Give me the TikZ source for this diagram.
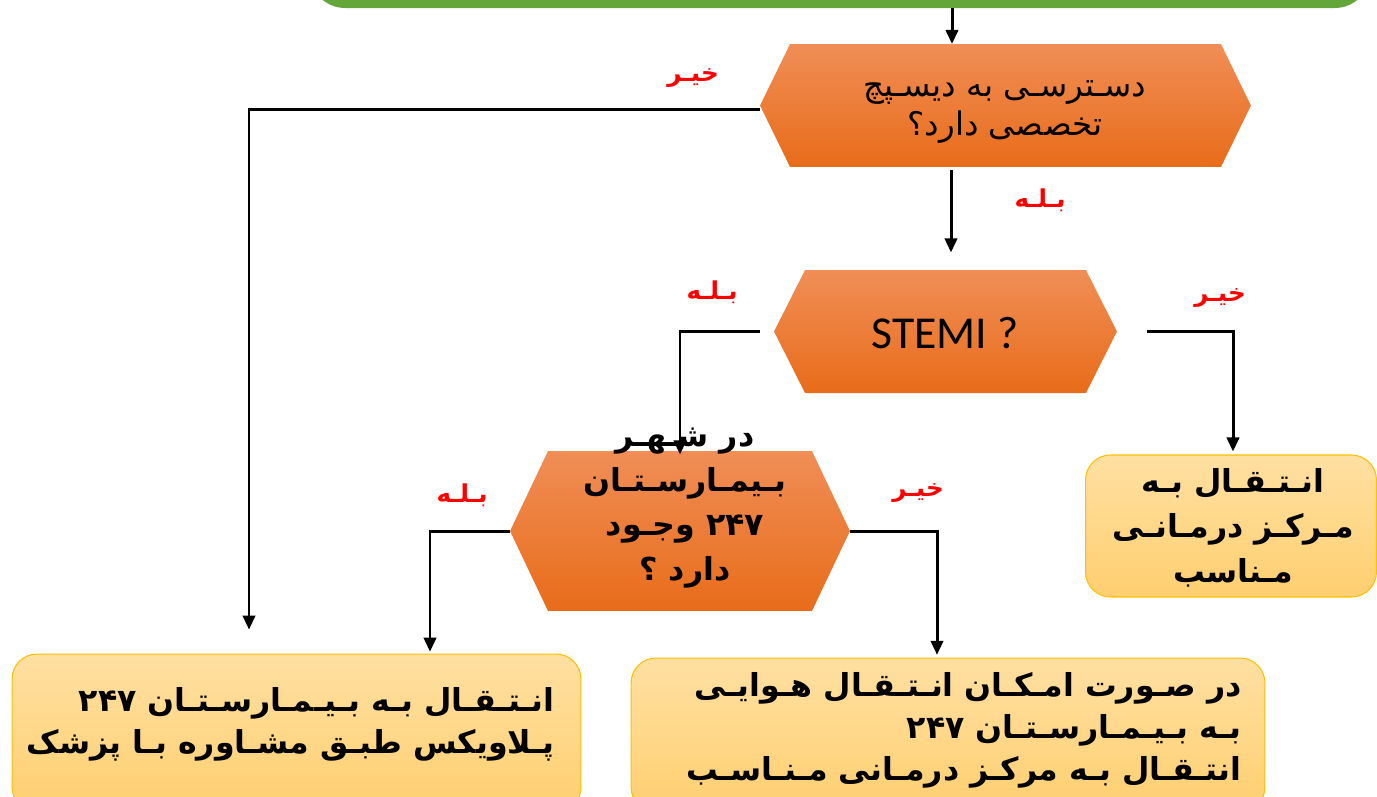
\documentclass[tikz,border=0pt]{standalone}
\usepackage{fontspec}
\usetikzlibrary{arrows.meta,calc,backgrounds}
\TeXXeTstate=1
\newfontfamily\fa[Script=Arabic]{DejaVu Sans}
\newfontfamily\stemifont{Carlito}
\definecolor{grn}{RGB}{100,166,58}
\definecolor{hexT}{RGB}{240,142,86}
\definecolor{hexM}{RGB}{243,124,42}
\definecolor{hexB}{RGB}{232,108,26}
\definecolor{boxT}{RGB}{255,224,162}
\definecolor{boxB}{RGB}{255,207,112}
\definecolor{boxE}{RGB}{255,192,0}
\definecolor{lbl}{RGB}{255,0,0}
\newcommand{\hexfill}[2]{%
  \begin{pgfonlayer}{background}
  \shade[top color=hexT,middle color=hexM,bottom color=hexB]
    (#1.west) -- ($(#1.north west)+(#2,0)$) -- ($(#1.north east)+(-#2,0)$)
    -- (#1.east) -- ($(#1.south east)+(-#2,0)$) -- ($(#1.south west)+(#2,0)$) -- cycle;
  \end{pgfonlayer}}
\tikzset{
  hexbox/.style={inner sep=0pt, outer sep=0pt},
  greenbox/.style={fill=grn, rounded corners=0.7cm, inner sep=0pt},
  endbox/.style={draw=boxE, line width=0.6pt, top color=boxT, bottom color=boxB, rounded corners=0.5cm, inner sep=0pt},
  arr/.style={line width=1.7pt, -{Triangle[length=8pt,width=7pt]}},
  lab/.style={text=lbl, font=\fa\bfseries\fontsize{14}{16}\selectfont, inner sep=0pt},
  qtext/.style={font=\fa\fontsize{18.5}{22.7}\selectfont, align=center, inner sep=0pt},
  btext/.style={font=\fa\bfseries\fontsize{18}{24}\selectfont, inner sep=0pt},
}
\begin{document}
\begin{tikzpicture}[x=0.02cm,y=-0.02cm]
\useasboundingbox (0,0) rectangle (1377,796);
% top green block
\node[greenbox, minimum width=21.2cm, minimum height=1.6cm] (g) at (840,-32) {};
% decision hexagons
\node[hexbox, minimum width=9.82cm, minimum height=2.46cm] (h1) at (1005.5,105.5) {};
\hexfill{h1}{30}
\node[qtext] (t1) at (1005,112) {\beginR دسـترسـی به دیسـپچ\endR\\ \beginR تخصصی دارد؟\endR};
\node[hexbox, minimum width=6.86cm, minimum height=2.46cm] (h2) at (945.5,331.5) {};
\hexfill{h2}{31}
\node[font=\stemifont\fontsize{26}{30}\selectfont, inner sep=0pt] (t2) at (945,333) {STEMI ?};
\node[hexbox, minimum width=6.8cm, minimum height=3.2cm] (h3) at (680,531) {};
\hexfill{h3}{38}
\node[btext, align=center, font=\fa\bfseries\fontsize{18}{25.5}\selectfont] (t3) at (685,508)
  {\beginR در شـهـر\endR\\ \beginR بـیمـارسـتـان\endR\\ \beginR\beginL ۲۴۷\endL{} وجـود\endR\\ \beginR دارد ؟\endR};
% end boxes
\node[endbox, minimum width=5.82cm, minimum height=2.84cm] (R) at (1231,526) {};
\node[btext, align=center, font=\fa\bfseries\fontsize{18}{25.5}\selectfont] (tR) at (1233,528)
  {\beginR انـتـقـال بـه\endR\\ \beginR مـرکـز درمـانـی\endR\\ \beginR مـناسب\endR};
\node[endbox, minimum width=11.38cm, minimum height=3.16cm] (BL) at (296.5,733) {};
\node[btext, align=right, anchor=east] (tBL) at (555,724)
  {\beginR انـتـقـال بـه بـیـمـارسـتـان \beginL ۲۴۷\endL\endR\\ \beginR پـلاویکس طبـق مشـاوره بـا پزشک\endR};
\node[endbox, minimum width=12.68cm, minimum height=3.08cm] (BM) at (948,735) {};
\node[btext, align=right, anchor=east] (tBM) at (1242,730)
  {\beginR در صـورت امـکـان انـتـقـال هـوایـی\endR\\ \beginR بـه بـیـمـارسـتـان \beginL ۲۴۷\endL\endR\\ \beginR انتـقـال بـه مرکـز درمـانی مـنـاسـب\endR};
% column coordinates
\coordinate (x952) at (952,0);
\coordinate (x951) at (951,0);
\coordinate (x249) at (249,0);
\coordinate (x680) at (680,0);
\coordinate (x1233) at (1233,0);
\coordinate (x430) at (430,0);
\coordinate (x937) at (937,0);
% connectors
\draw[arr] (g.south -| x952) -- (h1.north -| x952);
\draw[arr, shorten <=1.7pt, shorten >=10pt] (h1.south -| x951) -- (h2.north -| x951);
\draw[arr, shorten >=13.6pt] ([yshift=-2.5pt]h1.west) -| (BL.north -| x249);
\draw[arr, shorten <=8pt, shorten >=-2pt] (h2.west) -| (h3.north -| x680);
\draw[arr, shorten <=17pt, shorten >=1.7pt] (h2.east) -| (R.north -| x1233);
\draw[arr, shorten >=1pt] (h3.west) -| (BL.north -| x430);
\draw[arr, shorten >=1.5pt] (h3.east) -| (BM.north -| x937);
% branch labels
\node[lab] (l1) at (693,78) {\beginR خیـر\endR};
\node[lab] (l2) at (1040,200) {\beginR بـلـه\endR};
\node[lab] (l3) at (712,292) {\beginR بـلـه\endR};
\node[lab] (l4) at (1220,298) {\beginR خیـر\endR};
\node[lab] (l5) at (462,495) {\beginR بـلـه\endR};
\node[lab] (l6) at (918,493) {\beginR خیـر\endR};
\end{tikzpicture}
\end{document}
